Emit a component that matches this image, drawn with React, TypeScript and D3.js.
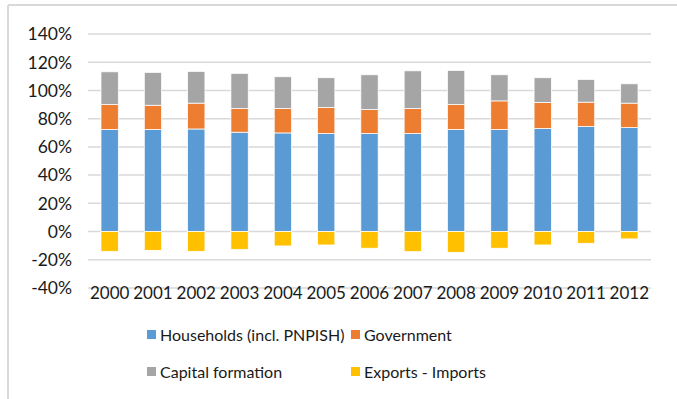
import React from "react";
import * as d3 from "d3";

const years = ["2000","2001","2002","2003","2004","2005","2006","2007","2008","2009","2010","2011","2012"];
const households = [72.3,72.3,72.7,70.4,69.9,69.4,69.4,69.4,72.3,72.3,73.0,74.4,73.7];
const government = [17.7,17.2,18.3,16.8,17.3,18.5,17.1,17.8,17.7,20.3,18.5,17.3,17.3];
const capital = [23.2,23.3,22.5,24.9,22.5,21.1,24.6,26.7,24.2,18.5,17.5,16.1,13.7];
const exportsImports = [-14.0,-13.3,-14.0,-12.6,-10.2,-9.5,-11.8,-14.2,-14.7,-11.8,-9.5,-8.3,-5.2];
const yTicks = [-40,-20,0,20,40,60,80,100,120,140];

const seriesNames = ["Households (incl. PNPISH)","Government","Capital formation","Exports - Imports"];
const colors = ["#5B9BD5","#ED7D31","#A5A5A5","#FFC000"];

const W = 677, H = 399;
const FONT = "Lato, 'Open Sans', sans-serif";

export default function App() {
  const x = d3.scaleBand<string>().domain(years).range([88, 651]).paddingInner(0.6).paddingOuter(0.3);
  const y = d3.scaleLinear().domain([-40, 140]).range([288, 34]);

  const rects: any[] = [];
  years.forEach((yr, i) => {
    const stacks = [
      { s: 0, from: 0, to: households[i] },
      { s: 1, from: households[i], to: households[i] + government[i] },
      { s: 2, from: households[i] + government[i], to: households[i] + government[i] + capital[i] },
      { s: 3, from: exportsImports[i], to: 0 },
    ];
    stacks.forEach((st) => {
      const y0 = y(Math.max(st.from, st.to));
      const y1 = y(Math.min(st.from, st.to));
      rects.push(
        <rect key={yr + "-" + st.s} x={x(yr)} y={y0} width={x.bandwidth()} height={y1 - y0}
          fill={colors[st.s]} stroke="#ffffff" strokeWidth={0.75} />
      );
    });
  });

  const legendItems = [
    { name: seriesNames[0], c: colors[0], lx: 147, ly: 335 },
    { name: seriesNames[1], c: colors[1], lx: 351, ly: 335 },
    { name: seriesNames[2], c: colors[2], lx: 147, ly: 372 },
    { name: seriesNames[3], c: colors[3], lx: 351, ly: 372 },
  ];

  return (
    <svg width={W} height={H} style={{ position: "absolute", left: 0, top: 0, background: "#fff" }} fontFamily={FONT}>
      <rect x={0} y={0} width={W} height={H} fill="#ffffff" />
      <line x1={8} y1={5} x2={W} y2={5} stroke="#D9D9D9" strokeWidth={2} />
      <line x1={8} y1={5} x2={8} y2={H} stroke="#D9D9D9" strokeWidth={2} />
      {yTicks.map((t) => (
        <g key={t}>
          <line x1={88} x2={651} y1={y(t)} y2={y(t)} stroke="#D9D9D9" strokeWidth={1.5} />
          <text x={72} y={y(t)} dy="0.36em" textAnchor="end" fontSize={17.5} fill="#1a1a1a">{t}%</text>
        </g>
      ))}
      {rects}
      {years.map((yr) => (
        <text key={yr} x={(x(yr) as number) + x.bandwidth() / 2} y={299} textAnchor="middle" fontSize={17} fill="#1a1a1a">{yr}</text>
      ))}
      {legendItems.map((it) => (
        <g key={it.name}>
          <rect x={it.lx} y={it.ly - 5} width={9} height={9} fill={it.c} />
          <text x={it.lx + 13} y={it.ly} dy="0.36em" fontSize={16} fill="#1a1a1a">{it.name}</text>
        </g>
      ))}
    </svg>
  );
}
